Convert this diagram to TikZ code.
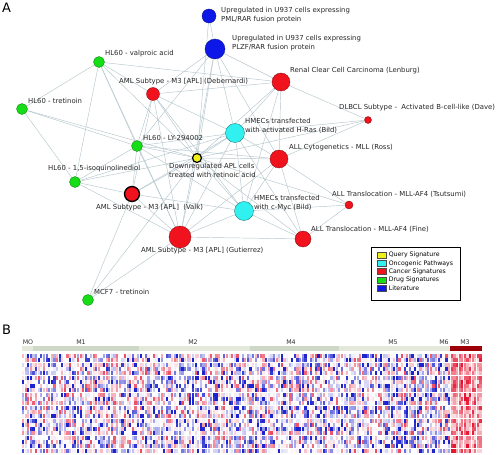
\documentclass[tikz,border=0pt]{standalone}
\usepackage{fontspec}
\setmainfont{DejaVu Sans}
\usetikzlibrary{backgrounds,positioning}

\definecolor{edgegray}{RGB}{180,198,205}
\definecolor{drugg}{RGB}{22,222,22}
\definecolor{cancr}{RGB}{240,18,28}
\definecolor{oncoc}{RGB}{48,240,240}
\definecolor{litb}{RGB}{12,24,232}
\definecolor{qyel}{RGB}{240,240,24}
\definecolor{hmblue}{RGB}{30,36,205}
\definecolor{hmred}{RGB}{228,12,42}
\definecolor{barsage}{RGB}{205,216,198}
\definecolor{barpale}{RGB}{228,232,218}
\definecolor{bardark}{RGB}{158,0,8}

\tikzset{
  sig/.style={circle, inner sep=0pt, line width=0.35pt},
  drug/.style={sig, fill=drugg, draw=drugg!55!black, minimum size=11pt},
  cancer/.style={sig, fill=cancr, draw=cancr!55!black},
  onco/.style={sig, fill=oncoc, draw=oncoc!45!black, minimum size=19pt},
  lit/.style={sig, fill=litb, draw=litb!55!black},
  lbl/.style={font=\fontsize{6.9}{9}\selectfont, text=black!85, inner sep=0pt, anchor=west, align=left},
  legtext/.style={font=\fontsize{6.2}{7}\selectfont, inner sep=0pt, anchor=west},
  modtext/.style={font=\fontsize{6.3}{7}\selectfont, text=black!80, inner sep=0pt},
  link/.style={edgegray, line width=0.45pt},
}

\def\hmx{22}
\def\hmy{354}
\def\colw{2.614}
\def\rowh{4.3}

\begin{document}
\begin{tikzpicture}[x=1pt, y=-1pt]
  \useasboundingbox (0,0) rectangle (499,455);
  \node[font=\fontsize{13}{13}\selectfont, inner sep=0pt, anchor=west] (tagA) at (2,8) {A};
  \node[font=\fontsize{13}{13}\selectfont, inner sep=0pt, anchor=west] (tagB) at (2,330) {B};

  \node[lit, minimum size=14pt] (pml) at (209,16) {};
  \node[lit, minimum size=20pt] (plzf) at (215,49) {};
  \node[cancer, minimum size=18pt] (renal) at (281,82) {};
  \node[cancer, minimum size=7pt] (dlbcl) at (368,120) {};
  \node[onco] (hras) at (235,133) {};
  \node[cancer, minimum size=18pt] (ross) at (279,159) {};
  \node[cancer, minimum size=13pt] (deb) at (153,94) {};
  \node[drug] (valp) at (99,62) {};
  \node[drug] (tret) at (22,109) {};
  \node[drug] (ly) at (137,146) {};
  \node[sig, fill=qyel, draw=black, line width=1.2pt, minimum size=9pt] (q) at (197,158) {};
  \node[drug] (iso) at (75,182) {};
  \node[cancer, draw=black, line width=1.3pt, minimum size=15pt] (valk) at (132,194) {};
  \node[cancer, minimum size=22pt] (gut) at (180,237) {};
  \node[onco] (myc) at (244,211) {};
  \node[cancer, minimum size=8pt] (tsu) at (349,205) {};
  \node[cancer, minimum size=16pt] (fine) at (303,239) {};
  \node[drug] (mcf) at (88,300) {};

  \node[lbl] (pml-t) at (221,15.5) {Upregulated in U937 cells expressing\\PML/RAR fusion protein};
  \node[lbl] (plzf-t) at (232,43.5) {Upregulated in U937 cells expressing\\PLZF/RAR fusion protein};
  \node[lbl] (renal-t) at (290,71) {Renal Clear Cell Carcinoma (Lenburg)};
  \node[lbl] (dlbcl-t) at (339,108) {DLBCL Subtype -\ \ Activated B-cell-like (Dave)};
  \node[lbl] (hras-t) at (245,126) {HMECs transfected\\with activated H-Ras (Bild)};
  \node[lbl] (ross-t) at (289,148) {ALL Cytogenetics - MLL (Ross)};
  \node[lbl] (deb-t) at (119,82) {AML Subtype - M3 [APL] (Debernardi)};
  \node[lbl] (valp-t) at (105,54) {HL60 - valproic acid};
  \node[lbl] (tret-t) at (28,101) {HL60 - tretinoin};
  \node[lbl] (ly-t) at (143,138) {HL60 - LY-294002};
  \node[lbl] (q-t) at (169,170) {Downregulated APL cells\\treated with retinoic acid};
  \node[lbl] (iso-t) at (48,169) {HL60 - 1,5-isoquinolinediol};
  \node[lbl] (valk-t) at (96,208) {AML Subtype - M3 [APL]\ \ (Valk)};
  \node[lbl] (gut-t) at (141,251) {AML Subtype - M3 [APL] (Gutierrez)};
  \node[lbl] (myc-t) at (254,203) {HMECs transfected\\with c-Myc (Bild)};
  \node[lbl] (tsu-t) at (332,194) {ALL Translocation - MLL-AF4 (Tsutsumi)};
  \node[lbl] (fine-t) at (311,229) {ALL Translocation - MLL-AF4 (Fine)};
  \node[lbl] (mcf-t) at (94,292) {MCF7 - tretinoin};

  \begin{scope}[on background layer]
    \foreach \a/\b in {q/pml, q/plzf, q/renal, q/dlbcl, q/hras, q/ross, q/deb, q/valp,
        q/tret, q/ly, q/iso, q/valk, q/gut, q/myc, q/tsu, q/fine, q/mcf,
        pml/plzf, plzf/renal, plzf/hras, plzf/ross, plzf/deb, plzf/ly, plzf/gut,
        renal/deb, renal/hras, renal/ross, renal/dlbcl, renal/myc, renal/valp,
        dlbcl/hras, dlbcl/ross, hras/ross, hras/myc, hras/ly, hras/deb, hras/gut,
        hras/valk, hras/fine, hras/iso, ross/myc, ross/fine, ross/tsu, ross/gut, ross/ly,
        deb/ly, deb/valk, deb/gut, deb/myc, valp/tret, valp/ly, valp/iso, valp/deb,
        valp/gut, tret/ly, tret/iso, ly/iso, ly/valk, ly/gut, ly/myc,
        iso/valk, iso/gut, valk/gut, valk/mcf, valk/myc, gut/myc, gut/fine, gut/mcf,
        myc/tsu, myc/fine, tsu/fine}
      \draw[link] (\a) -- (\b);
  \end{scope}

  \node[draw, line width=0.6pt, minimum width=89pt, minimum height=53pt, inner sep=0pt,
        anchor=north west] (legend) at (371,247) {};
  \foreach \col/\txt [count=\i] in {qyel/Query Signature, oncoc/Oncogenic Pathways,
      cancr/Cancer Signatures, drugg/Drug Signatures, litb/Literature}{
    \node[draw=black!70, fill=\col, line width=0.3pt, minimum width=9pt, minimum height=6pt,
          inner sep=0pt] (sw\i) at (381.5,246.7+8.3*\i) {};
    \node[legtext, right=2.5pt of sw\i] (leg\i) {\txt};
  }

  \fill[barpale] (22,346) rectangle (33,351);
  \fill[barsage] (33,346) rectangle (139,351);
  \fill[barpale] (139,346) rectangle (250,351);
  \fill[barsage] (250,346) rectangle (339,351);
  \fill[barpale] (339,346) rectangle (446,351);
  \fill[barpale] (446,346) rectangle (449.5,351);
  \fill[bardark] (450,346) rectangle (482,351);
  \foreach \m/\x in {MO/28, M1/81, M2/193, M4/291, M5/393, M6/444, M3/465}
    \node[modtext] (mod-\m) at (\x,342) {\m};

  \pgfmathsetseed{4242}
  \foreach \c in {0,...,175}{
    \foreach \r in {0,...,22}{
      \pgfmathsetmacro\v{\c>163 ? 0.3+0.7*rnd : rand-0.15}
      \pgfmathtruncatemacro\p{min(100,100*abs(\v)^1.7)}
      \ifdim\v pt<0pt \def\hc{hmblue!\p!white}\else\def\hc{hmred!\p!white}\fi
      \fill[\hc] (\hmx+\c*\colw,\hmy+\r*\rowh) rectangle ++(2.2,4);
    }
  }
\end{tikzpicture}
\end{document}
